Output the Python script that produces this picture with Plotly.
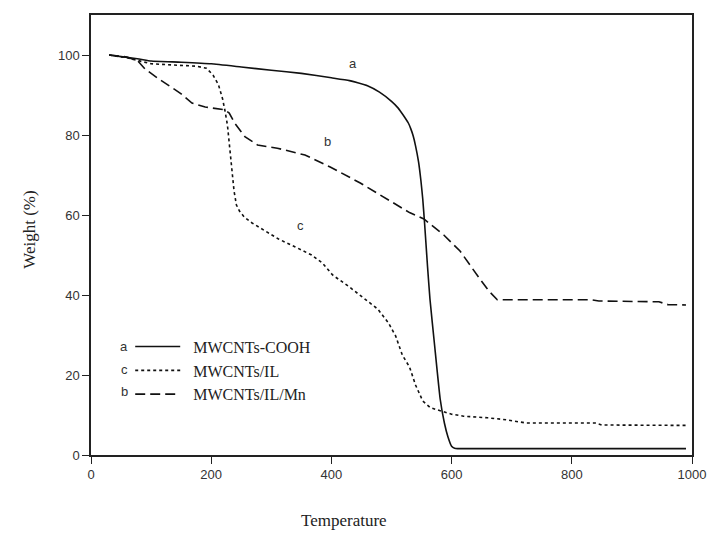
import plotly.graph_objects as go

# ---- data ----
temp_a = [30, 50, 80, 100, 150, 200, 250, 300, 350, 400, 430, 460, 480, 500, 510, 517, 523, 528, 532, 536, 540, 545, 549, 552, 555, 560, 564, 572, 581, 588, 594, 600, 605, 610, 700, 800, 900, 990]
weight_a = [100, 99.6, 99.0, 98.5, 98.2, 97.8, 97.0, 96.2, 95.4, 94.3, 93.6, 92.3, 90.7, 88.4, 86.9, 85.5, 84.2, 83.0, 81.6, 79.8, 77.3, 73.3, 68.5, 64.0, 58.0, 47.0, 39.0, 27.0, 14.0, 8.0, 4.5, 2.2, 1.7, 1.6, 1.6, 1.6, 1.6, 1.6]

temp_c = [30, 60, 100, 140, 175, 192, 203, 212, 219, 223, 227, 230, 233, 236, 238, 242, 247, 255, 268, 290, 312, 340, 367, 385, 402, 430, 455, 477, 495, 507, 518, 530, 540, 552, 565, 581, 600, 620, 660, 691, 724, 760, 800, 839, 850, 900, 990]
weight_c = [100, 99.3, 97.8, 97.4, 97.2, 96.7, 95.0, 92.6, 89.0, 86.0, 82.5, 78.0, 74.0, 69.0, 66.0, 62.5, 61.0, 59.5, 58.0, 56.0, 54.0, 52.0, 50.0, 48.0, 45.0, 42.0, 39.0, 36.5, 33.0, 29.7, 25.0, 22.0, 17.5, 13.5, 11.8, 11.0, 10.2, 9.7, 9.3, 8.8, 8.0, 8.0, 8.0, 8.0, 7.5, 7.4, 7.4]

temp_b = [30, 60, 78, 90, 113, 134, 150, 168, 190, 222, 230, 239, 256, 277, 310, 356, 398, 448, 492, 530, 554, 587, 614, 630, 647, 662, 676, 700, 750, 800, 833, 845, 900, 945, 960, 990]
weight_b = [100, 99.5, 98.5, 96.5, 94.0, 91.8, 90.3, 88.0, 87.0, 86.3, 85.5, 83.0, 79.6, 77.5, 76.7, 75.0, 72.0, 68.0, 64.0, 60.6, 59.0, 55.0, 51.0, 47.5, 44.0, 41.0, 38.8, 38.8, 38.8, 38.8, 38.8, 38.5, 38.4, 38.3, 37.6, 37.5]

series_names = ["MWCNTs-COOH", "MWCNTs/IL", "MWCNTs/IL/Mn"]
series_letters = ["a", "c", "b"]
x_ticks = [0, 200, 400, 600, 800, 1000]
y_ticks = [0, 20, 40, 60, 80, 100]

# curve labels on the plot: (letter, T, weight)
curve_labels = [("a", 436, 98.0), ("b", 394, 78.5), ("c", 348, 57.5)]

PL, PR, PT, PB = 91.5, 697.0, 15.0, 455.5
PW, PH = PR - PL, PB - PT


def px_x(px):
    return (px - PL) / PW


def px_y(py):
    return (PB - py) / PH


fig = go.Figure()
fig.add_trace(go.Scatter(x=temp_a, y=weight_a, mode="lines", name="\u00a0\u00a0" + series_names[0],
                         line=dict(color="#111111", width=1.6, dash="solid", shape="spline", smoothing=0.4)))
fig.add_trace(go.Scatter(x=temp_c, y=weight_c, mode="lines", name="\u00a0\u00a0" + series_names[1],
                         line=dict(color="#111111", width=1.6, dash="dot")))
fig.add_trace(go.Scatter(x=temp_b, y=weight_b, mode="lines", name="\u00a0\u00a0" + series_names[2],
                         line=dict(color="#111111", width=1.6, dash="10px,5px")))

annotations = []
for letter, tx, wy in curve_labels:
    annotations.append(dict(x=tx, y=wy, xref="x", yref="y", text=letter, showarrow=False,
                            xanchor="center", yanchor="middle",
                            font=dict(family="Liberation Sans", size=13, color="#333333")))

# legend prefix letters
leg_rows_px = [347, 370, 392]
for letter, ypx in zip(series_letters, leg_rows_px):
    annotations.append(dict(x=px_x(125), y=px_y(ypx), xref="paper", yref="paper",
                            text=letter, showarrow=False, xanchor="center", yanchor="middle",
                            font=dict(family="Liberation Sans", size=13, color="#333333")))

# axis titles
annotations.append(dict(x=px_x(346), y=px_y(521), xref="paper", yref="paper",
                        text="Temperature", showarrow=False, xanchor="center", yanchor="middle",
                        font=dict(family="Liberation Serif", size=17, color="#222222")))
annotations.append(dict(x=px_x(30), y=px_y(230), xref="paper", yref="paper",
                        text="Weight (%)", showarrow=False, textangle=-90,
                        xanchor="center", yanchor="middle",
                        font=dict(family="Liberation Serif", size=17, color="#222222")))

fig.update_layout(
    width=718, height=534,
    margin=dict(l=91, r=21, t=15, b=79),
    paper_bgcolor="white", plot_bgcolor="white",
    showlegend=True,
    legend=dict(x=px_x(131), y=px_y(330), xanchor="left", yanchor="top",
                bgcolor="rgba(0,0,0,0)", borderwidth=0, itemwidth=45,
                font=dict(family="Liberation Serif", size=16, color="#222222"),
                tracegroupgap=0),
    annotations=annotations,
)
fig.update_xaxes(range=[0, 1000], tickvals=x_ticks, showgrid=False, zeroline=False,
                 showline=True, mirror=True, linecolor="#222222", linewidth=1.5,
                 ticks="outside", ticklen=7, tickwidth=1.2, tickcolor="#222222",
                 tickfont=dict(family="Liberation Sans", size=13, color="#333333"))
fig.update_yaxes(range=[0, 110], tickvals=y_ticks, showgrid=False, zeroline=False,
                 showline=True, mirror=True, linecolor="#222222", linewidth=1.5,
                 ticks="outside", ticklen=7, tickwidth=1.2, tickcolor="#222222",
                 tickfont=dict(family="Liberation Sans", size=13, color="#333333"))

fig.write_html("out.html")
